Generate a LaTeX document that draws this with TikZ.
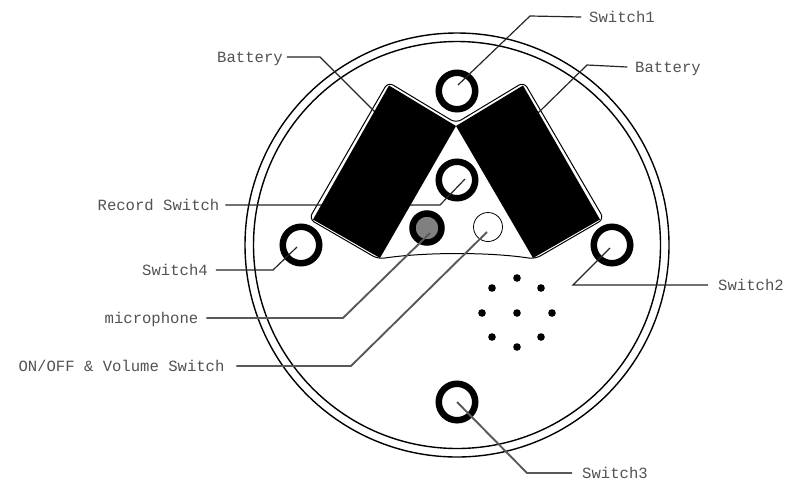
\documentclass[tikz,border=0pt]{standalone}
\usepackage{fontspec}
\setmonofont{Liberation Mono}
\usetikzlibrary{positioning}

\begin{document}
\begin{tikzpicture}[
  x=1pt, y=-1pt,
  ring/.style={circle, draw=black, line width=6.5pt, inner sep=0pt, outer sep=0pt, minimum size=36.5pt},
  tag/.style={font=\fontsize{15.6}{16}\selectfont\ttfamily, text=black!68, inner sep=0pt, outer sep=8pt,
              text height=10pt, text depth=0pt},
  leader/.style={draw=black!85, line width=1.2pt},
  heavyleader/.style={draw=black!65, line width=1.9pt},
  cell/.style={fill=black}
]
\useasboundingbox (0,0) rectangle (797,480);

% Case
\draw[line width=1.4pt] (457,245) circle (212);
\draw[line width=1.4pt] (457,245) circle (203.5);

% Switches
\node[ring] (sw1) at (457,91) {};
\node[ring] (sw2) at (612,245) {};
\node[ring] (sw3) at (457,402) {};
\node[ring] (sw4) at (301,245) {};
\node[ring] (rec) at (457,180) {};

% Microphone and volume
\node[circle, draw=black, fill=black!50, line width=6.5pt, inner sep=0pt, outer sep=0pt, minimum size=29pt] (mic) at (427,228) {};
\node[circle, draw=black, line width=0.8pt, inner sep=0pt, outer sep=0pt, minimum size=29pt] (vol) at (488,227) {};

% Battery compartment
\draw[line width=1pt, rounded corners=6pt] (388,82) -- (456,123) -- (524,82) -- (604,219) -- (535,259)
  .. controls (490,252) and (425,252) .. (378,259) -- (309,219) -- cycle;

% Speaker holes
\foreach \px/\py in {517/278, 541/288, 552/313, 541/337, 517/347, 492/337, 482/313, 492/288, 517/313}
  \fill (\px,\py) circle (3.8);

% Labels
\node[tag] (lsw1) at (622,17) {Switch1};
\node[tag] (lbr) at (668,67) {Battery};
\node[tag] (lbl) at (250,57) {Battery};
\node[tag] (lrec) at (158.5,205) {Record Switch};
\node[tag] (lsw4) at (175,270) {Switch4};
\node[tag] (lmic) at (151.5,318) {microphone};
\node[tag] (lvol) at (121.5,366) {ON/OFF \& Volume Switch};
\node[tag] (lsw2) at (751,285) {Switch2};
\node[tag] (lsw3) at (615,473) {Switch3};

% Leader ends
\coordinate (bsw1) at (530,16);
\coordinate (tsw1) at (458,85);
\coordinate (bbr) at (587,65);
\coordinate (tbr) at (537,114);
\coordinate (bbl) at (320,57);
\coordinate (tbl) at (378,115);
\coordinate (brec) at (440,205);
\coordinate (trec) at (465,179);
\coordinate (bsw4) at (273,270);
\coordinate (tsw4) at (297,247);
\coordinate (bmic) at (343,318);
\coordinate (tmic) at (430,233);
\coordinate (bvol) at (351,366);
\coordinate (tvol) at (487,232);
\coordinate (bsw2) at (573,285);
\coordinate (tsw2) at (610,248);
\coordinate (bsw3) at (527,473);

% Leaders
\draw[leader] (lsw1.west) -- (bsw1) -- (tsw1);
\draw[leader] (lbr.west) -- (bbr) -- (tbr);
\draw[leader, shorten <=-4pt] (lbl.east) -- (bbl) -- (tbl);
\draw[leader, shorten <=-2pt] (lrec.east) -- (brec) -- (trec);
\draw[leader] (lsw4.east) -- (bsw4) -- (tsw4);
\draw[heavyleader] (lmic.east) -- (bmic) -- (tmic);
\draw[heavyleader, shorten <=4pt] (lvol.east) -- (bvol) -- (tvol);
\draw[leader, shorten <=2pt] (lsw2.west) -- (bsw2) -- (tsw2);
\draw[heavyleader, shorten <=2pt] (lsw3.west) -- (bsw3) -- (sw3.center);

% Batteries
\fill[cell] (389,85.5) -- (456,126) -- (380,258) -- (313,219.5) -- cycle;
\fill[cell] (523,85.5) -- (456,126) -- (533,258) -- (600,219.5) -- cycle;

\end{tikzpicture}
\end{document}
